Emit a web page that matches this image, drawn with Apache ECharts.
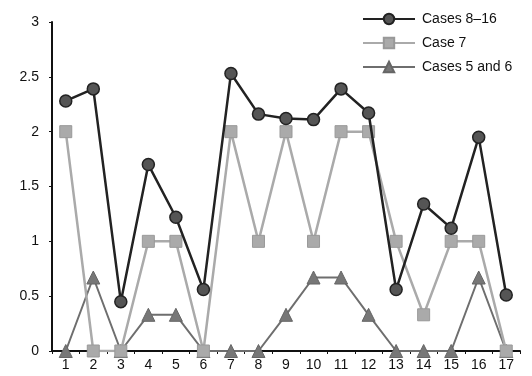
<!DOCTYPE html>
<html><head><meta charset="utf-8">
<script src="https://cdn.jsdelivr.net/npm/echarts@6/dist/echarts.min.js"></script>
<style>html,body{margin:0;padding:0;background:#fff}#c{width:532px;height:376px}</style>
</head><body><div id="c"></div>
<script>
const categories = ['1','2','3','4','5','6','7','8','9','10','11','12','13','14','15','16','17'];
const cases8to16 = [2.28,2.39,0.45,1.70,1.22,0.56,2.53,2.16,2.12,2.11,2.39,2.17,0.56,1.34,1.12,1.95,0.51];
const case7 = [2,0,0,1,1,0,2,1,2,1,2,2,1,0.33,1,1,0];
const cases5and6 = [0,0.67,0,0.33,0.33,0,0,0,0.33,0.67,0.67,0.33,0,0,0,0.67,0];
const seriesNames = ['Cases 8\u201316','Case 7','Cases 5 and 6'];

const chart = echarts.init(document.getElementById('c'));
chart.setOption({
  animation:false,
  backgroundColor:'#fff',
  textStyle:{fontFamily:'Liberation Sans, Arial'},
  grid:{left:52,right:12,top:22,bottom:25},
  legend:{
    data:seriesNames, orient:'vertical', left:357, top:7,
    itemWidth:52, itemHeight:13, itemGap:10,
    textStyle:{fontSize:14,color:'#111',fontFamily:'Liberation Sans, Arial',padding:[0,0,0,2]}
  },
  xAxis:{
    type:'category', data:categories, boundaryGap:true,
    axisLine:{lineStyle:{color:'#111',width:2}},
    axisTick:{show:true,length:3,lineStyle:{color:'#111'}},
    axisLabel:{color:'#111',fontSize:14,margin:7}
  },
  yAxis:{
    type:'value', min:0, max:3, interval:0.5,
    axisLine:{show:true,lineStyle:{color:'#111',width:2}},
    axisTick:{show:true,length:3,lineStyle:{color:'#111'}},
    splitLine:{show:false},
    axisLabel:{color:'#111',fontSize:14,margin:13}
  },
  series:[
    {name:seriesNames[2],type:'line',data:cases5and6,symbol:'triangle',symbolSize:13,z:2,
     lineStyle:{color:'#6e6e6e',width:2},itemStyle:{color:'#777',borderColor:'#666',borderWidth:1}},
    {name:seriesNames[1],type:'line',data:case7,symbol:'rect',symbolSize:12,z:3,
     lineStyle:{color:'#aaa',width:2.5},itemStyle:{color:'#aaa',borderColor:'#999',borderWidth:1}},
    {name:seriesNames[0],type:'line',data:cases8to16,symbol:'circle',symbolSize:12,z:4,
     lineStyle:{color:'#222',width:2.5},itemStyle:{color:'#555',borderColor:'#222',borderWidth:1.5}}
  ]
});
</script></body></html>
